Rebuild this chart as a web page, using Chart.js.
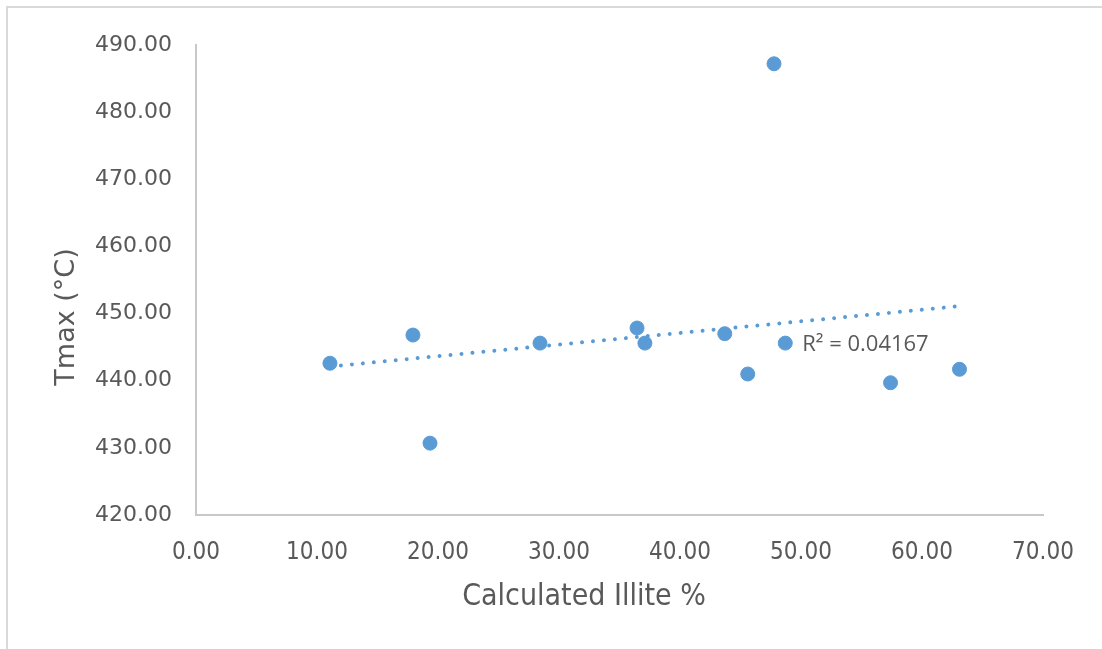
<!DOCTYPE html>
<html>
<head>
<meta charset="utf-8">
<script src="https://cdn.jsdelivr.net/npm/chart.js@4/dist/chart.umd.min.js"></script>
<style>
  html, body { margin: 0; padding: 0; background: #fff; }
  #frame {
    position: absolute; left: 6px; top: 6px; width: 1096px; height: 643px;
    border-left: 2px solid #d9d9d9; border-top: 2px solid #d9d9d9; box-sizing: border-box;
  }
  #wrap { position: absolute; left: 0; top: 0; width: 1102px; height: 649px; }
</style>
</head>
<body>
<div id="frame"></div>
<div id="wrap"><canvas id="chart" width="1102" height="649"></canvas></div>
<script>
// illite % vs Tmax
const illite = [11.07, 17.93, 19.34, 28.43, 36.45, 37.10, 43.70, 47.77, 45.60, 48.70, 57.40, 63.10];
const tmax   = [442.6, 446.8, 430.7, 445.6, 447.85, 445.6, 447.0, 487.2, 441.0, 445.6, 439.7, 441.7];

const xTitle = 'Calculated Illite %';
const yTitle = 'Tmax (°C)';
const r2Text = 'R² = 0.04167';
const r2At = [50.1, 445.3];

const blue = '#5b9bd5';
const grey = '#595959';

// least squares trendline over the data range
function trend(xs, ys) {
  const n = xs.length;
  const mx = xs.reduce((a, b) => a + b, 0) / n;
  const my = ys.reduce((a, b) => a + b, 0) / n;
  let sxy = 0, sxx = 0;
  for (let i = 0; i < n; i++) {
    sxy += (xs[i] - mx) * (ys[i] - my);
    sxx += (xs[i] - mx) * (xs[i] - mx);
  }
  const m = sxy / sxx, b = my - m * mx;
  const lo = Math.min(...xs), hi = Math.max(...xs);
  return [{ x: lo, y: m * lo + b }, { x: hi, y: m * hi + b }];
}

const points = illite.map((x, i) => ({ x: x, y: tmax[i] }));

const titlesPlugin = {
  id: 'titles',
  afterDraw(chart) {
    const ctx = chart.ctx;
    const xs = chart.scales.x, ys = chart.scales.y;
    ctx.save();
    ctx.fillStyle = grey;
    // x axis title
    ctx.font = '30px "Liberation Sans Narrow", "DejaVu Sans Condensed", sans-serif';
    ctx.textAlign = 'center';
    ctx.textBaseline = 'middle';
    ctx.fillText(xTitle, 584, 597);
    // y axis title
    ctx.translate(67, 317);
    ctx.rotate(-Math.PI / 2);
    ctx.font = '27px "DejaVu Sans", sans-serif';
    ctx.fillText(yTitle, 0, 0);
    ctx.restore();
    // R² label
    ctx.save();
    ctx.fillStyle = grey;
    ctx.font = '22px "Open Sans", sans-serif';
    ctx.textAlign = 'left';
    ctx.textBaseline = 'middle';
    ctx.fillText(r2Text, xs.getPixelForValue(r2At[0]), ys.getPixelForValue(r2At[1]));
    ctx.restore();
  }
};

new Chart(document.getElementById('chart').getContext('2d'), {
  type: 'scatter',
  data: {
    datasets: [
      {
        label: 'trend',
        type: 'line',
        data: trend(illite, tmax),
        borderColor: blue,
        borderWidth: 4,
        borderDash: [0.01, 11],
        borderCapStyle: 'round',
        pointRadius: 0,
        fill: false
      },
      {
        label: 'Tmax',
        data: points,
        backgroundColor: blue,
        borderColor: blue,
        pointRadius: 7,
        pointHoverRadius: 7
      }
    ]
  },
  options: {
    responsive: false,
    animation: false,
    layout: { padding: { left: 0, right: 59, top: 45, bottom: 0 } },
    plugins: { legend: { display: false }, tooltip: { enabled: false } },
    scales: {
      x: {
        type: 'linear', min: 0, max: 70,
        afterFit: s => { s.height = 134; },
        grid: { display: false, drawTicks: false },
        border: { display: true, color: '#c8c8c8', width: 2 },
        ticks: {
          stepSize: 10, padding: 23, color: grey,
          font: { family: '"Liberation Sans Narrow", "DejaVu Sans Condensed", sans-serif', size: 24 },
          callback: v => v.toFixed(2)
        }
      },
      y: {
        type: 'linear', min: 420, max: 490,
        afterFit: s => { s.width = 196; },
        grid: { display: false, drawTicks: false },
        border: { display: true, color: '#c8c8c8', width: 2 },
        ticks: {
          stepSize: 10, padding: 24, color: grey,
          font: { family: '"DejaVu Sans", sans-serif', size: 22 },
          callback: v => v.toFixed(2)
        }
      }
    }
  },
  plugins: [titlesPlugin]
});
</script>
</body>
</html>
